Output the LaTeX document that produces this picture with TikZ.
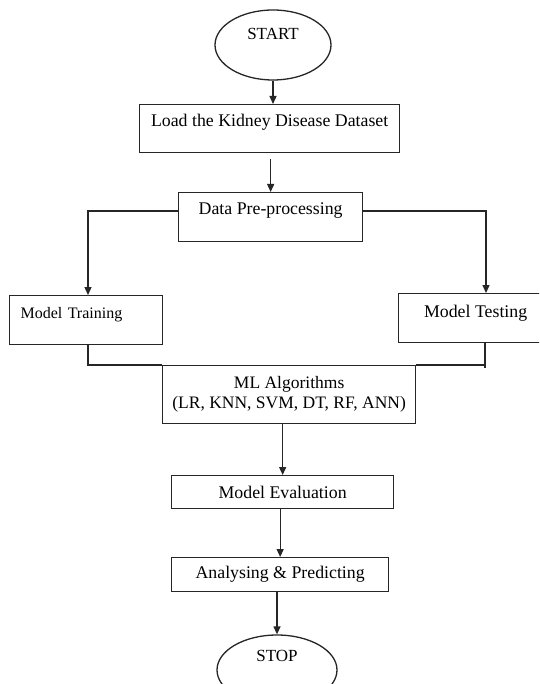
\documentclass[tikz,border=0pt]{standalone}
\usepackage{fontspec}
\setmainfont{Liberation Serif}
\usetikzlibrary{arrows.meta,shapes.geometric,calc}
\begin{document}
\begin{tikzpicture}[x=1pt,y=-1pt,
  ln/.style={line width=1.3pt,draw=black!85},
  arr/.style={ln,-{Triangle[length=8pt,width=7pt]}},
  boxn/.style={ln,rectangle,inner sep=0pt,anchor=north west,font=\fontsize{17.8}{20}\selectfont},
  ovaln/.style={ln,ellipse,inner sep=0pt,font=\fontsize{17}{20}\selectfont}]
\clip (0,0) rectangle (539,684);
\useasboundingbox (0,0) rectangle (539,684);
\fill[white] (0,0) rectangle (539,684);

\node[ovaln,minimum width=116pt,minimum height=70pt,text height=12pt,text depth=23pt] (start) at (273,45) {START};
\node[boxn,minimum width=260pt,text height=21.5pt,text depth=26.5pt] (box1) at (139,104) {Load the Kidney Disease Dataset};
\node[boxn,minimum width=184pt,text height=21.5pt,text depth=27.5pt] (data) at (178,192) {Data Pre-processing};
\node[boxn,text width=153pt,align=left,text height=22.5pt,text depth=26.5pt,font=\fontsize{16}{18}\selectfont] (train) at (9,295) {\hspace*{11pt}Model Training};
\node[boxn,minimum width=154pt,text height=23.5pt,text depth=25.5pt] (test) at (398,293) {Model Testing};
\node[boxn,minimum width=253pt,minimum height=58pt,align=center,font=\fontsize{17.5}{20}\selectfont] (ml) at (162,365) {ML Algorithms\\(LR, KNN, SVM, DT, RF, ANN)};
\node[boxn,minimum width=222pt,minimum height=33pt] (eval) at (171,475) {Model Evaluation};
\node[boxn,minimum width=217pt,minimum height=34pt] (ana) at (171,557) {Analysing \& Predicting};
\node[ovaln,minimum width=120pt,minimum height=70pt,text height=10pt,text depth=27pt] (stop) at (277,670) {STOP};

\coordinate (b1o) at ($(box1.south)+(0,6)$);
\coordinate (dl) at (178,211);
\coordinate (trt) at (88,295);
\coordinate (tst) at (486,293);
\coordinate (jr) at (485,368);

\draw[arr] (start.south) -- (start.south |- box1.north);
\draw[arr] (b1o -| data.north) -- (data.north);
\draw[arr] (data.west |- dl) -| (train.north -| trt);
\draw[arr] (data.east |- dl) -| (test.north -| tst);
\draw[ln] (train.south -| trt) |- (ml.north west);
\draw[ln] (ml.north east) -- (ml.north east -| jr);
\draw[ln] (test.south -| jr) -- (jr);
\draw[arr] (ml.south -| eval.north) -- (eval.north);
\draw[arr] (eval.south -| ana.north) -- (ana.north);
\draw[arr] (ana.south -| stop.north) -- (stop.north);
\end{tikzpicture}
\end{document}
